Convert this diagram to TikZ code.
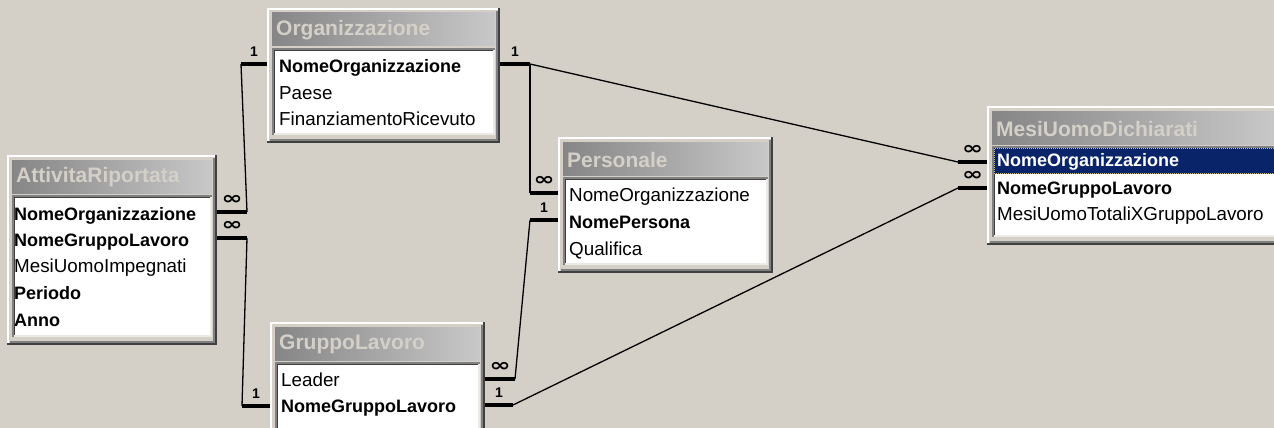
\documentclass[tikz,border=0pt]{standalone}
\usepackage{fontspec}
\setmainfont{Liberation Sans}
\newfontfamily\symfont{DejaVu Sans}
\usetikzlibrary{calc}
\definecolor{winbg}{HTML}{D4D0C8}
\definecolor{tleft}{HTML}{868686}
\definecolor{tright}{HTML}{C8C8C8}
\definecolor{navysel}{HTML}{0A246A}
\definecolor{edgedark}{HTML}{404040}
\definecolor{edgemid}{HTML}{808080}
\definecolor{edgelight}{HTML}{ECEAE4}
\definecolor{focus}{HTML}{C8C07A}
\tikzset{
  win/.style={fill=winbg, draw=none, inner sep=0pt, outer sep=0pt, anchor=north west},
  titlebar/.style={left color=tleft, right color=tright, draw=none, inner sep=0pt, outer sep=0pt, anchor=north west},
  ttext/.style={anchor=west, inner sep=0pt, text=winbg, font=\fontsize{21}{21}\selectfont\bfseries},
  bodybox/.style={fill=white, draw=none, inner sep=0pt, outer sep=0pt, anchor=north west},
  fld/.style={anchor=west, inner sep=0pt, text height=13.5pt, text depth=3.8pt, font=\fontsize{18.8}{19}\selectfont},
  key/.style={anchor=west, inner sep=0pt, text height=13.5pt, text depth=3.8pt, font=\fontsize{18}{19}\selectfont\bfseries},
  link/.style={line width=1.3pt, black},
  endbar/.style={line width=4pt, black},
  one/.style={inner sep=0pt, font=\fontsize{14}{14}\selectfont\bfseries},
  many/.style={inner sep=0pt, font=\symfont\fontsize{18}{18}\selectfont\bfseries},
}
\newcommand\accwin[6]{%
  \node[win, minimum width=#4pt, minimum height=#5pt] (#1) at (#2,#3) {};
  \draw[white, line width=2pt] ([shift={(1,0)}]#1.south west) -- ([shift={(1,1)}]#1.north west) -- ([shift={(0,1)}]#1.north east);
  \draw[edgemid, line width=2pt] ([shift={(-3,3)}]#1.north east) -- ([shift={(-3,-3)}]#1.south east) -- ([shift={(3,-3)}]#1.south west);
  \draw[edgedark, line width=2pt] ([shift={(-1,0)}]#1.north east) -- ([shift={(-1,-1)}]#1.south east) -- ([shift={(0,-1)}]#1.south west);
  \node[titlebar, minimum width={(#4-10)*1pt}, minimum height=33pt] (#1-t) at ([shift={(5,5)}]#1.north west) {};
  \node[ttext] (#1-tt) at ([shift={(4,1)}]#1-t.west) {#6};
  \node[bodybox, minimum width={(#4-10)*1pt}, minimum height={(#5-48)*1pt}] (#1-b) at ([shift={(5,40)}]#1.north west) {};
  \draw[edgelight, line width=2pt] ([shift={(-1,0)}]#1-b.north east) -- ([shift={(-1,-1)}]#1-b.south east) -- ([shift={(0,-1)}]#1-b.south west);
  \draw[edgemid, line width=2pt] ([shift={(1,0)}]#1-b.south west) -- ([shift={(1,1)}]#1-b.north west) -- ([shift={(0,1)}]#1-b.north east);
  \draw[edgedark, line width=1pt] ([shift={(2.5,-2)}]#1-b.south west) -- ([shift={(2.5,2.5)}]#1-b.north west) -- ([shift={(-2,2.5)}]#1-b.north east);
}
\begin{document}
\begin{tikzpicture}[x=1pt, y=-1pt]
\useasboundingbox (0,0) rectangle (1274,428);
\clip (0,0) rectangle (1274,428);
\fill[winbg] (0,0) rectangle (1274,428);

% tables
\accwin{org}{267}{8}{233}{135}{Organizzazione}
\accwin{att}{7}{155}{210}{190}{AttivitaRiportata}
\accwin{pers}{558}{137}{215}{136}{Personale}
\accwin{grp}{270}{322}{215}{140}{GruppoLavoro}
\accwin{mesi}{987}{106}{295}{139}{MesiUomoDichiarati}

% selected row
\fill[navysel] (994,148) rectangle (1282,174);
\draw[focus, densely dotted, line width=1pt] (994.5,148.5) rectangle (1282,173.5);

% fields
\node[key] (org-r1) at (279,68) {NomeOrganizzazione};
\node[fld] (org-r2) at (279,95) {Paese};
\node[fld] (org-r3) at (279,121) {FinanziamentoRicevuto};

\node[key] (att-r1) at (14,216) {NomeOrganizzazione};
\node[key] (att-r2) at (14,242) {NomeGruppoLavoro};
\node[fld] (att-r3) at (14,268) {MesiUomoImpegnati};
\node[key] (att-r4) at (14,295) {Periodo};
\node[key] (att-r5) at (14,322) {Anno};

\node[fld] (pers-r1) at (569,197) {NomeOrganizzazione};
\node[key] (pers-r2) at (569,224) {NomePersona};
\node[fld] (pers-r3) at (569,251) {Qualifica};

\node[fld] (grp-r1) at (281,382) {Leader};
\node[key] (grp-r2) at (281,408) {NomeGruppoLavoro};

\node[key, text=white] (mesi-r1) at (997,162) {NomeOrganizzazione};
\node[key] (mesi-r2) at (997,190) {NomeGruppoLavoro};
\node[fld] (mesi-r3) at (997,216) {MesiUomoTotaliXGruppoLavoro};

% junction coordinates
\coordinate (a1) at (241,64);
\coordinate (a2) at (247,212);
\coordinate (b1) at (247,238);
\coordinate (b2) at (242,406);
\coordinate (c1) at (530,64);
\coordinate (c2) at (958,162);
\coordinate (d2) at (530,193);
\coordinate (e1) at (530,220);
\coordinate (e2) at (515,379);
\coordinate (f1) at (513,405);
\coordinate (f2) at (958,188);

% Organizzazione -> AttivitaRiportata
\draw[endbar] (org.west |- a1) -- (a1);
\draw[link] (a1) -- (a2);
\draw[endbar] (a2) -- (att.east |- a2);
\node[one] (l1) at ($(a1)!.5!(org.west |- a1)+(0,-12)$) {1};
\node[many] (m1) at ($(a2)!.5!(att.east |- a2)+(0,-12)$) {\scalebox{1.4}[1]{∞}};

% GruppoLavoro -> AttivitaRiportata
\draw[endbar] (att.east |- b1) -- (b1);
\draw[link] (b1) -- (b2);
\draw[endbar] (b2) -- (grp.west |- b2);
\node[many] (m2) at ($(b1)!.5!(att.east |- b1)+(0,-12)$) {\scalebox{1.4}[1]{∞}};
\node[one] (l2) at ($(b2)!.5!(grp.west |- b2)+(0,-12)$) {1};

% Organizzazione -> MesiUomoDichiarati
\draw[endbar] (org.east |- c1) -- (c1);
\draw[link] (c1) -- (c2);
\draw[endbar] (c2) -- (mesi.west |- c2);
\node[one] (l3) at ($(c1)!.5!(org.east |- c1)+(0,-12)$) {1};
\node[many] (m3) at ($(c2)!.5!(mesi.west |- c2)+(0,-12)$) {\scalebox{1.4}[1]{∞}};

% Organizzazione -> Personale
\draw[link] (c1) -- (d2);
\draw[endbar] (d2) -- (pers.west |- d2);
\node[many] (m4) at ($(d2)!.5!(pers.west |- d2)+(0,-12)$) {\scalebox{1.4}[1]{∞}};

% Personale -> GruppoLavoro
\draw[endbar] (pers.west |- e1) -- (e1);
\draw[link] (e1) -- (e2);
\draw[endbar] (e2) -- (grp.east |- e2);
\node[one] (l5) at ($(e1)!.5!(pers.west |- e1)+(0,-12)$) {1};
\node[many] (m5) at ($(e2)!.5!(grp.east |- e2)+(0,-12)$) {\scalebox{1.4}[1]{∞}};

% GruppoLavoro -> MesiUomoDichiarati
\draw[endbar] (grp.east |- f1) -- (f1);
\draw[link] (f1) -- (f2);
\draw[endbar] (f2) -- (mesi.west |- f2);
\node[one] (l6) at ($(f1)!.5!(grp.east |- f1)+(0,-12)$) {1};
\node[many] (m6) at ($(f2)!.5!(mesi.west |- f2)+(0,-12)$) {\scalebox{1.4}[1]{∞}};
\end{tikzpicture}
\end{document}
